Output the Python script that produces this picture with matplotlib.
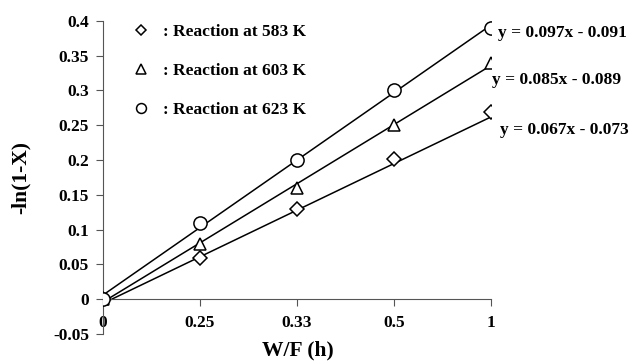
import numpy as np
import matplotlib
matplotlib.use("Agg")
import matplotlib.pyplot as plt
from matplotlib.ticker import FormatStrFormatter

plt.rcParams['font.family'] = ['Liberation Serif', 'DejaVu Serif']
plt.rcParams['font.weight'] = 'bold'

# data
wf_labels = ['0', '0.25', '0.33', '0.5', '1']
temps = ['583', '603', '623']
y_583 = [0, 0.059, 0.129, 0.201, 0.269]
y_603 = [0, 0.08, 0.16, 0.25, 0.34]
y_623 = [0, 0.11, 0.20, 0.30, 0.39]
# trendline equations as printed on the chart (x = point number 1..5)
trend_slope = [0.067, 0.085, 0.097]
trend_icpt = [-0.073, -0.089, -0.091]

markers = ['D', '^', 'o']
msizes = [7, 9, 9.5]

series = [y_583, y_603, y_623]
idx = np.arange(len(wf_labels))

fig = plt.figure(figsize=(6.33, 3.62), dpi=100)
ax = fig.add_axes([0.1627, 0.0773, 0.613, 0.865])

eq_pos = [(0.79, 0.64), (0.778, 0.778), (0.786, 0.91)]

for ys, t, m, ms, a, b, pos in zip(series, temps, markers, msizes,
                                   trend_slope, trend_icpt, eq_pos):
    xfit = idx + 1
    ax.plot(idx, a * xfit + b, color='black', lw=1.1, zorder=2)
    ax.plot(idx, ys, linestyle='none', marker=m, ms=ms, mfc='white',
            mec='black', mew=1.1, label=': Reaction at %s K' % t, zorder=3)
    sign = '-' if b < 0 else '+'
    fig.text(pos[0], pos[1], 'y = %.3fx %s %.3f' % (a, sign, abs(b)),
             fontsize=12.5, fontweight='bold', ha='left', va='center')

ax.set_xlim(0, 4)
ax.set_ylim(-0.05, 0.4)
ax.set_xticks(idx)
ax.set_xticklabels(wf_labels)
ax.set_yticks(np.arange(-0.05, 0.401, 0.05))
ax.yaxis.set_major_formatter(FormatStrFormatter('%g'))
ax.tick_params(axis='y', direction='out', length=5, labelsize=12.5, pad=5)
ax.tick_params(axis='x', direction='out', length=5, labelsize=12.5, pad=6)

for s in ['top', 'right']:
    ax.spines[s].set_visible(False)
ax.spines['bottom'].set_position(('data', 0))
ax.spines['bottom'].set_color('#555555')
ax.spines['left'].set_color('#555555')
ax.tick_params(axis='both', color='#555555')

fig.text(0.47, 0.033, 'W/F (h)', fontsize=15.5, fontweight='bold', ha='center', va='center')
fig.text(0.032, 0.51, '-ln(1-X)', fontsize=15.5, fontweight='bold', rotation=90,
         ha='center', va='center')

ax.legend(loc='upper left', bbox_to_anchor=(0.035, 1.04), frameon=False,
          fontsize=12.5, markerscale=0.75, handlelength=1.0, handletextpad=0.75,
          labelspacing=1.3)

fig.savefig('out.png', dpi=100)
